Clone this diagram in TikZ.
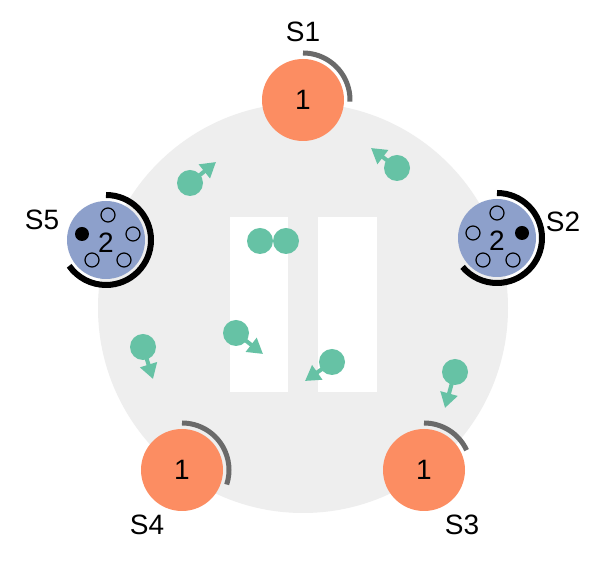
\documentclass[tikz,border=0pt]{standalone}
\usepackage{fontspec}
\setmainfont{Liberation Sans}
\usetikzlibrary{arrows.meta}
\definecolor{orng}{HTML}{FC8D62}
\definecolor{blu}{HTML}{8DA0CB}
\definecolor{grn}{HTML}{66C2A5}
\definecolor{bg}{HTML}{EEEEEE}
\definecolor{arcg}{HTML}{6A6A6A}
\tikzset{
  lbl/.style={font=\fontsize{28}{32}\selectfont, inner sep=0pt},
  orangenode/.style={circle, fill=orng, minimum size=82pt, inner sep=0pt, font=\fontsize{28}{32}\selectfont},
  bluenode/.style={circle, fill=blu, minimum size=78pt, inner sep=0pt},
  ball/.style={circle, fill=grn, minimum size=26pt, inner sep=0pt},
  mv/.style={draw=grn, line width=4pt, -{Triangle[length=15pt,width=17pt]}},
  ring/.style={draw=arcg, line width=5pt},
  bring/.style={draw=black, line width=6pt},
  hole/.style={circle, draw=black, line width=1.2pt, minimum size=14pt, inner sep=0pt},
  dot/.style={circle, fill=black, minimum size=14pt, inner sep=0pt},
}
\begin{document}
\begin{tikzpicture}[x=1pt,y=1pt]
\fill[white] (0,0) rectangle (600,567);
\useasboundingbox (0,0) rectangle (600,567);
% ring background
\fill[bg] (303,259) circle[radius=205pt];
\fill[white] (230,175) rectangle (288,350);
\fill[white] (318,175) rectangle (377,350);

% servers
\node[orangenode] (s1) at (303,467) {1};
\node[orangenode] (s3) at (424,97) {1};
\node[orangenode] (s4) at (182,97) {1};
\node[bluenode] (s2) at (497,329) {};
\node[bluenode] (s5) at (106,327) {};

\draw[ring] ([shift={(90:47pt)}]s1.center) arc[start angle=90, end angle=-2, radius=47pt];
\draw[ring] ([shift={(90:47pt)}]s3.center) arc[start angle=90, end angle=25, radius=47pt];
\draw[ring] ([shift={(90:47pt)}]s4.center) arc[start angle=90, end angle=-18, radius=47pt];
\draw[bring] ([shift={(90:45pt)}]s2.center) arc[start angle=90, end angle=-140, radius=45pt];
\draw[bring] ([shift={(90:45pt)}]s5.center) arc[start angle=90, end angle=-145, radius=45pt];

% S2 contents
\node[lbl] (s2n) at ([yshift=-3pt]s2.center) {2};
\node[dot] (s2d) at ([shift={(25pt,5pt)}]s2.center) {};
\node[hole] (s2a) at ([shift={(0pt,25pt)}]s2.center) {};
\node[hole] (s2b) at ([shift={(-24pt,5pt)}]s2.center) {};
\node[hole] (s2c) at ([shift={(-14pt,-22pt)}]s2.center) {};
\node[hole] (s2e) at ([shift={(16pt,-22pt)}]s2.center) {};
% S5 contents
\node[lbl] (s5n) at ([yshift=-3pt]s5.center) {2};
\node[dot] (s5d) at ([shift={(-24pt,6pt)}]s5.center) {};
\node[hole] (s5a) at ([shift={(2pt,25pt)}]s5.center) {};
\node[hole] (s5b) at ([shift={(27pt,6pt)}]s5.center) {};
\node[hole] (s5c) at ([shift={(-14pt,-20pt)}]s5.center) {};
\node[hole] (s5e) at ([shift={(18pt,-20pt)}]s5.center) {};

% labels
\node[lbl] (l1) at (303,535) {S1};
\node[lbl] (l2) at (563,345) {S2};
\node[lbl] (l3) at (462,42) {S3};
\node[lbl] (l4) at (147,42) {S4};
\node[lbl] (l5) at (42,347) {S5};

% moving balls
\coordinate (t1) at (216,405);
\coordinate (t2) at (371,419);
\coordinate (t3) at (263,213);
\coordinate (t4) at (305,186);
\coordinate (t5) at (153,188);
\coordinate (t6) at (445,159);
\coordinate (c1) at (190,384);
\coordinate (c2) at (397,399);
\coordinate (c3) at (236,234);
\coordinate (c4) at (332,205);
\coordinate (c5) at (143,220);
\coordinate (c6) at (455,195);
\foreach \i in {1,...,6} {
  \draw[mv] (c\i) -- (t\i);
  \node[ball] (b\i) at (c\i) {};
}
\node[ball] (p1) at (260,326) {};
\node[ball] (p2) at (286,326) {};
\end{tikzpicture}
\end{document}
